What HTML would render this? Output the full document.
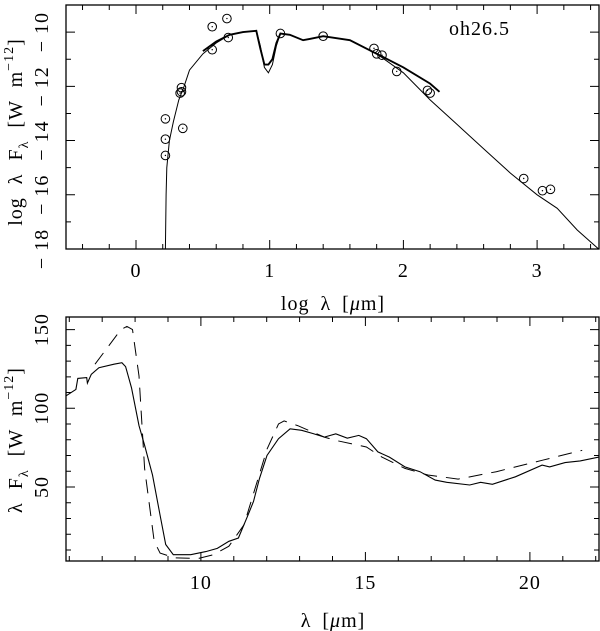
<!DOCTYPE html>
<html><head><meta charset="utf-8"><style>
html,body{margin:0;padding:0;background:#fff}
svg{display:block}
text{font-family:"Liberation Serif",serif;fill:#000;letter-spacing:1px}
</style></head><body>
<svg id="chart" width="600" height="631" viewBox="0 0 600 631" xmlns="http://www.w3.org/2000/svg">
<g id="top"></g>
<g id="bot"></g>
</svg>
<script>
// ---- top panel data ----
const topModelX=[0.22,0.225,0.23,0.25,0.28,0.32,0.36,0.4,0.5,0.6,0.7,0.8,0.9,0.93,0.96,0.99,1.02,1.05,1.08,1.15,1.25,1.3,1.4,1.6,1.8,2.0,2.2,2.4,2.6,2.8,3.0,3.15,3.3,3.46];
const topModelY=[-18,-16,-15,-14,-13.3,-12.5,-12,-11.4,-10.8,-10.4,-10.1,-10.0,-9.95,-10.5,-11.3,-11.5,-11.2,-10.5,-10.05,-10.1,-10.3,-10.25,-10.15,-10.3,-10.8,-11.5,-12.5,-13.4,-14.3,-15.2,-16.0,-16.5,-17.3,-18.0];
const topObsX=[0.5,0.6,0.7,0.8,0.9,0.93,0.96,0.99,1.02,1.05,1.08,1.15,1.25,1.3,1.4,1.6,1.8,2.0,2.2,2.27];
const topObsY=[-10.7,-10.35,-10.1,-10.0,-9.95,-10.6,-11.2,-11.2,-11.0,-10.4,-10.05,-10.1,-10.3,-10.25,-10.15,-10.3,-10.8,-11.3,-11.9,-12.2];
const photX=[0.22,0.22,0.22,0.34,0.34,0.33,0.35,0.57,0.57,0.68,0.69,1.08,1.40,1.78,1.80,1.84,1.95,2.18,2.20,2.90,3.04,3.10];
const photY=[-13.2,-13.95,-14.55,-12.05,-12.2,-12.25,-13.55,-9.8,-10.65,-9.5,-10.2,-10.05,-10.15,-10.6,-10.8,-10.85,-11.45,-12.15,-12.25,-15.4,-15.85,-15.8];
const topXTicks=[0,1,2,3];
const topYTicks=[-10,-12,-14,-16,-18];
// ---- bottom panel data ----
const specX=[5.88,6.2,6.26,6.53,6.55,6.67,6.9,7.36,7.6,7.71,7.89,8.12,8.29,8.53,8.76,8.93,9.16,9.69,10.15,10.5,10.85,11.14,11.43,11.6,11.78,12.01,12.36,12.71,13.06,13.4,13.75,14.1,14.45,14.8,15.03,15.38,15.73,16.2,16.66,17.12,17.47,18.17,18.5,18.86,19.56,20.37,20.6,21.07,21.53,22.1];
const specY=[107.6,112,119,119.5,116,121.6,125.8,128,129,126.5,113,89,76.5,57.6,32,13.5,7,7,9,11,15.5,17.6,32,40.8,55.5,70,80.7,87,86,84,81.7,83.8,81,82.8,80.7,72.3,69,62.8,59.7,54.4,53,51.3,53,51.7,56.5,63.9,62.8,65.5,66.6,69];
const modelX=[6.78,7.57,7.75,7.92,8.12,8.29,8.58,8.76,9.22,9.92,10.38,10.85,11.31,12.01,12.36,12.53,12.94,13.75,14.1,15.03,15.5,16.2,16.9,17.82,18.98,20.37,21.59];
const modelY=[128,150,152,150,120.6,61.8,15.5,8,5,4.6,7,12.4,26,74,90,92,89,81.7,79.6,75.4,69,61.8,57.6,55,59.7,67,73.3];
const botXTicks=[10,15,20];
const botYTicks=[50,100,150];

const NS="http://www.w3.org/2000/svg";
function mk(parent,tag,attrs){const e=document.createElementNS(NS,tag);for(const k in attrs)e.setAttribute(k,attrs[k]);parent.appendChild(e);return e;}

const L=66,R=599;
const T1=5,B1=249, T2=317,B2=561;
const tx=v=>L+(v+0.5236)*(R-L)/(3.463+0.5236);
const ty=v=>B1-(v+18)*(B1-T1)/9.0;
const bx=v=>L+(v-5.9)*(R-L)/(22.1-5.9);
const by=v=>B2-(v-3)*(B2-T2)/(158-3);

function path(xs,ys,fx,fy){return xs.map((x,i)=>(i?'L':'M')+fx(x).toFixed(1)+','+fy(ys[i]).toFixed(1)).join('');}

const gt=document.getElementById('top'), gb=document.getElementById('bot');
function frame(g,T,B,name){const r=mk(g,'rect',{x:L,y:T,width:R-L,height:B-T,fill:'none',stroke:'#000','stroke-width':1.3});

}
frame(gt,T1,B1,'top-frame');frame(gb,T2,B2,'bottom-frame');

const clip=mk(document.getElementById('chart'),'defs',{});
const c1=mk(clip,'clipPath',{id:'c1'});mk(c1,'rect',{x:L,y:T1,width:R-L,height:B1-T1});
const c2=mk(clip,'clipPath',{id:'c2'});mk(c2,'rect',{x:L,y:T2,width:R-L,height:B2-T2});

let tk='';
for(let v=-0.4;v<=3.45;v+=0.2){const x=tx(v);const maj=Math.abs(v-Math.round(v))<1e-6;const l=maj?9:5;tk+=`M${x},${B1}v${-l}M${x},${T1}v${l}`;}
for(let v=-18;v<=-9;v+=1){const y=ty(v);const l=(v%2===0)?9:5;tk+=`M${L},${y}h${l}M${R},${y}h${-l}`;}
const tpk=mk(gt,'path',{d:tk,stroke:'#000','stroke-width':1,fill:'none'});


topXTicks.forEach(v=>{const t=mk(gt,'text',{x:tx(v),y:277,'text-anchor':'middle','font-size':20});t.textContent=String(v);

});
topYTicks.forEach(v=>{const y=ty(v);const t=mk(gt,'text',{transform:`translate(48,${y}) rotate(-90)`,'text-anchor':'middle','font-size':20});t.textContent='\u2212 '+Math.abs(v);

});

const m1=mk(gt,'path',{d:path(topModelX,topModelY,tx,ty),fill:'none',stroke:'#000','stroke-width':1,'clip-path':'url(#c1)'});


const o1=mk(gt,'path',{d:path(topObsX,topObsY,tx,ty),fill:'none',stroke:'#000','stroke-width':1.9,'clip-path':'url(#c1)'});


photX.forEach((x,i)=>{const g=mk(gt,'g',{});


mk(g,'circle',{cx:tx(x),cy:ty(photY[i]),r:4.3,fill:'none',stroke:'#000','stroke-width':1});
mk(g,'circle',{cx:tx(x),cy:ty(photY[i]),r:0.7,fill:'#000'});});
const lab=mk(gt,'text',{x:449,y:35,'font-size':20,'letter-spacing':'1.5'});lab.textContent='oh26.5';


const xt1=mk(gt,'text',{x:333,y:310,'text-anchor':'middle','font-size':20,'word-spacing':'5'});xt1.innerHTML='log λ [<tspan font-style="italic">μ</tspan>m]';


const yt1=mk(gt,'text',{transform:'translate(22,132) rotate(-90)','text-anchor':'middle','font-size':20,'word-spacing':'7','letter-spacing':'1.5'});yt1.innerHTML='log λ F<tspan font-size="14" dy="6">λ</tspan><tspan dy="-6"> [W m</tspan><tspan font-size="14" dy="-9">−12</tspan><tspan dy="9">]</tspan>';



let bk='';
for(let v=6;v<=22;v+=1){const x=bx(v);const l=(v%5===0)?9:5;bk+=`M${x},${B2}v${-l}M${x},${T2}v${l}`;}
for(let v=10;v<=150;v+=10){const y=by(v);const l=(v%50===0)?9:5;bk+=`M${L},${y}h${l}M${R},${y}h${-l}`;}
const bpk=mk(gb,'path',{d:bk,stroke:'#000','stroke-width':1,fill:'none'});


botXTicks.forEach(v=>{const t=mk(gb,'text',{x:bx(v),y:589,'text-anchor':'middle','font-size':20});t.textContent=String(v);

});
botYTicks.forEach(v=>{const y=by(v);const t=mk(gb,'text',{transform:`translate(48,${y}) rotate(-90)`,'text-anchor':'middle','font-size':20});t.textContent=String(v);

});
const s2=mk(gb,'path',{d:path(specX,specY,bx,by),fill:'none',stroke:'#000','stroke-width':1.1,'clip-path':'url(#c2)'});


const d2=mk(gb,'path',{d:path(modelX,modelY,bx,by),fill:'none',stroke:'#000','stroke-width':1,'stroke-dasharray':'14,9','clip-path':'url(#c2)'});


const xt2=mk(gb,'text',{x:333,y:627,'text-anchor':'middle','font-size':20,'word-spacing':'5'});xt2.innerHTML='λ [<tspan font-style="italic">μ</tspan>m]';


const yt2=mk(gb,'text',{transform:'translate(22,440) rotate(-90)','text-anchor':'middle','font-size':20,'word-spacing':'7','letter-spacing':'1.5'});yt2.innerHTML='λ F<tspan font-size="14" dy="6">λ</tspan><tspan dy="-6"> [W m</tspan><tspan font-size="14" dy="-9">−12</tspan><tspan dy="9">]</tspan>';


</script>
</body></html>
